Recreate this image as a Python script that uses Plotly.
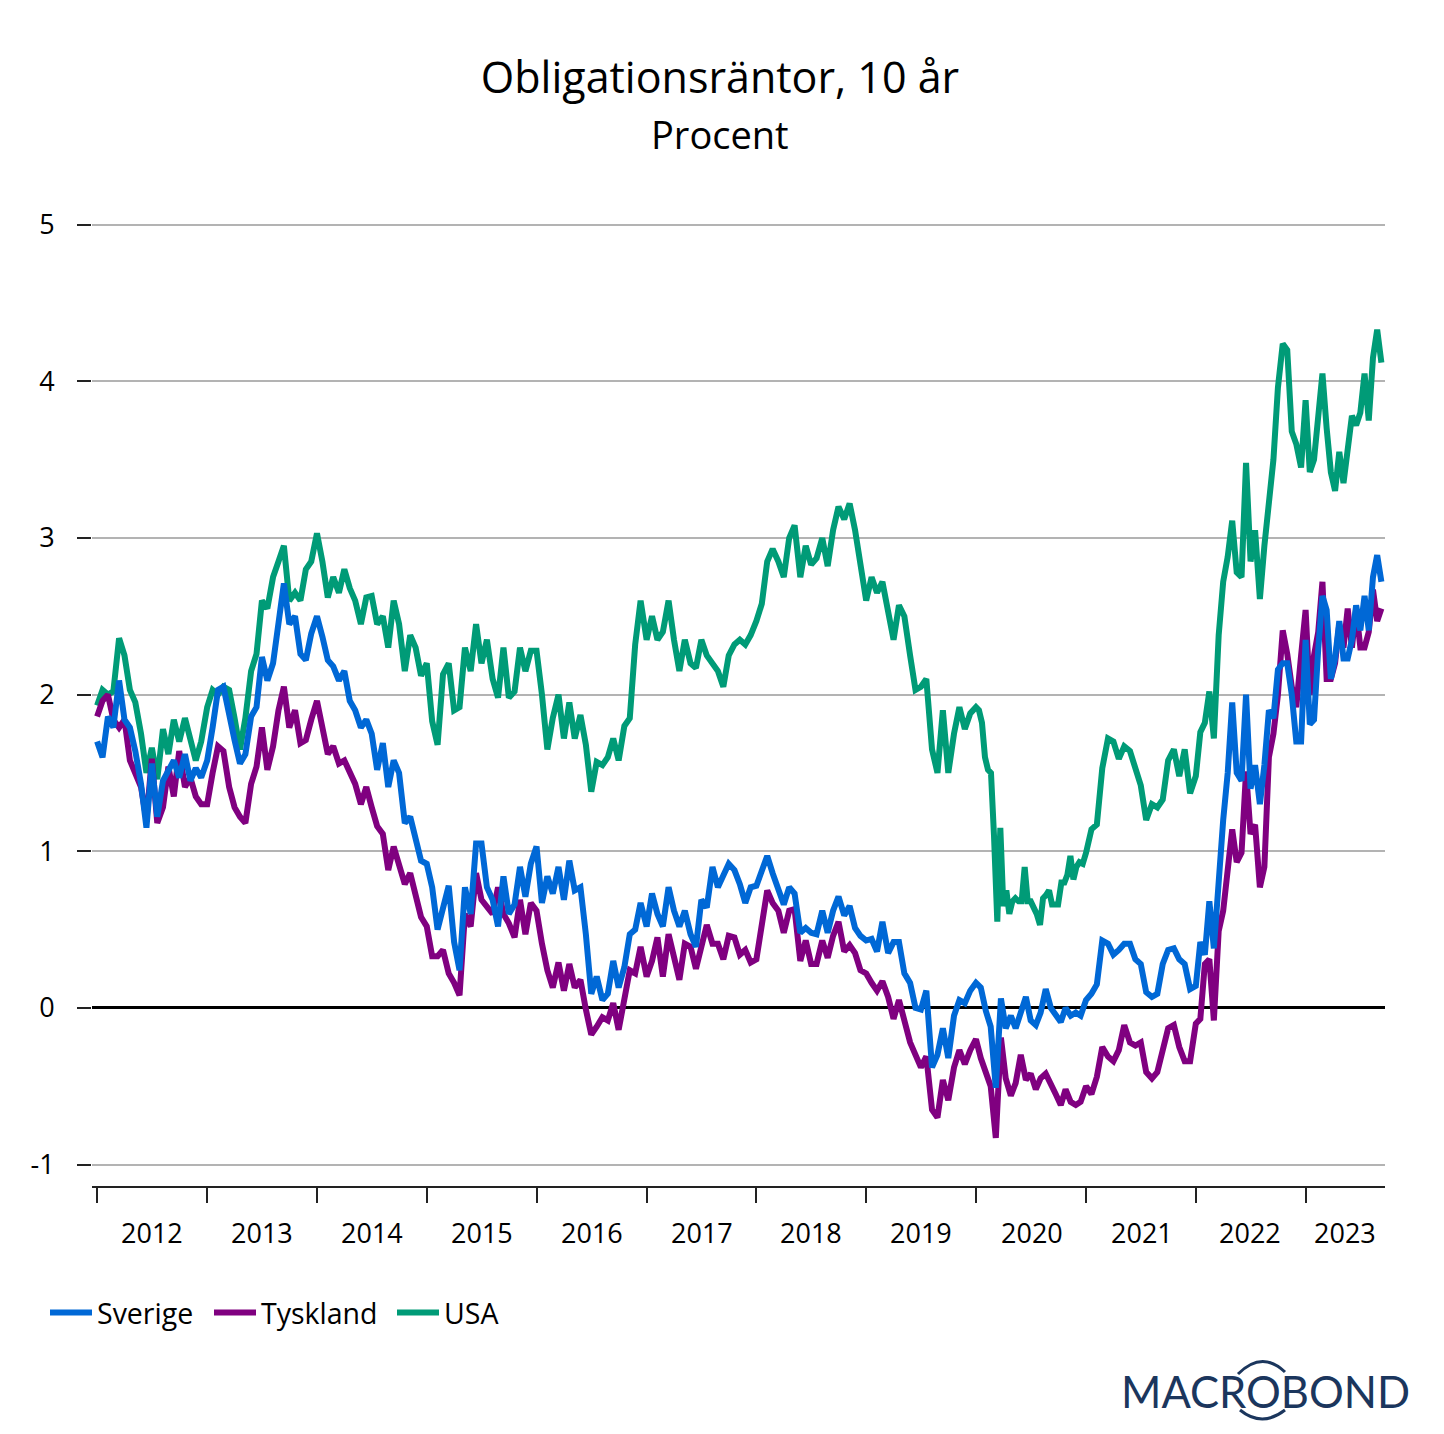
from datetime import datetime, timedelta
import plotly.graph_objects as go

W, H = 1444, 1434
FONT = "Open Sans"
BLUE, PURPLE, GREEN = "#0068d6", "#800080", "#009b77"
NAVY = "#1b365d"

TITLE = "Obligationsräntor, 10 år"
SUBTITLE = "Procent"
YEARS = list(range(2012, 2024))
LAST_YEAR_COVERAGE = 0.69
Y_TICKS = [-1, 0, 1, 2, 3, 4, 5]
X_LABELS = ["2012", "2013", "2014", "2015", "2016", "2017", "2018", "2019", "2020", "2021", "2022", "2023"]
X_LABEL_DATES = ["2012-07-03", "2013-07-03", "2014-07-03", "2015-07-03", "2016-07-03", "2017-07-03",
                 "2018-07-01", "2019-07-01", "2020-07-04", "2021-07-05", "2022-07-01", "2023-05-12"]

sverige_2012 = [1.70,1.60,1.86,1.79,2.09,1.84,1.79,1.64,1.43,1.15,1.56,1.22,1.45,1.52,1.58,1.47,1.62,1.45,1.53,1.47]
sverige_2013 = [1.58,1.79,2.03,2.05,1.86,1.71,1.56,1.62,1.86,1.92,2.24,2.09,2.20,2.47,2.71,2.45,2.50,2.26,2.22,2.39]
sverige_2014 = [2.50,2.37,2.22,2.18,2.09,2.15,1.96,1.90,1.79,1.84,1.75,1.52,1.69,1.41,1.58,1.50,1.18,1.22,1.07,0.94]
sverige_2015 = [0.92,0.77,0.50,0.64,0.78,0.42,0.24,0.77,0.60,1.05,1.05,0.77,0.69,0.52,0.84,0.60,0.66,0.90,0.71,0.92]
sverige_2016 = [1.03,0.67,0.84,0.73,0.90,0.69,0.94,0.75,0.77,0.47,0.09,0.20,0.05,0.09,0.30,0.13,0.26,0.47,0.50,0.67]
sverige_2017 = [0.52,0.73,0.60,0.52,0.77,0.62,0.52,0.62,0.47,0.39,0.69,0.64,0.90,0.77,0.84,0.92,0.88,0.79,0.67,0.77]
sverige_2018 = [0.78,0.89,0.97,0.86,0.75,0.66,0.77,0.73,0.48,0.51,0.48,0.47,0.62,0.48,0.62,0.71,0.59,0.65,0.51,0.46]
sverige_2019 = [0.43,0.44,0.36,0.55,0.35,0.42,0.42,0.22,0.16,0.00,-0.01,0.11,-0.38,-0.30,-0.13,-0.32,-0.05,0.05,0.03,0.11]
sverige_2020 = [0.16,0.13,-0.02,-0.12,-0.51,0.06,-0.13,-0.05,-0.13,-0.03,0.07,-0.08,-0.11,-0.03,0.12,0.00,-0.05,-0.09,0.00,-0.05,-0.03,-0.05]
sverige_2021 = [0.05,0.09,0.15,0.43,0.41,0.34,0.37,0.41,0.41,0.31,0.28,0.10,0.07,0.09,0.28,0.37,0.38,0.31,0.28,0.12]
sverige_2022 = [0.14,0.42,0.34,0.68,0.38,0.85,1.20,1.50,1.95,1.50,1.45,2.00,1.40,1.55,1.30,1.55,1.90,1.85,2.16,2.20,2.20,2.00,1.70,1.70]
sverige_2023 = [2.35,1.81,1.84,2.29,2.63,2.54,2.10,2.23,2.47,2.23,2.23,2.35,2.57,2.41,2.63,2.41,2.75,2.89,2.72]

tyskland_2012 = [1.86,1.96,2.00,1.84,1.79,1.84,1.58,1.50,1.41,1.20,1.59,1.18,1.28,1.54,1.35,1.64,1.41,1.47,1.35,1.30]
tyskland_2013 = [1.30,1.50,1.67,1.64,1.41,1.28,1.22,1.18,1.43,1.54,1.79,1.52,1.67,1.90,2.05,1.79,1.90,1.69,1.71,1.84]
tyskland_2014 = [1.96,1.79,1.62,1.67,1.56,1.58,1.50,1.43,1.30,1.41,1.28,1.16,1.11,0.88,1.03,0.90,0.79,0.86,0.71,0.58]
tyskland_2015 = [0.52,0.33,0.33,0.37,0.22,0.16,0.08,0.60,0.52,0.86,0.69,0.64,0.60,0.77,0.60,0.54,0.45,0.69,0.47,0.67]
tyskland_2016 = [0.62,0.41,0.24,0.13,0.29,0.11,0.28,0.13,0.18,-0.01,-0.17,-0.12,-0.06,-0.08,0.03,-0.14,0.05,0.24,0.22,0.39]
tyskland_2017 = [0.20,0.30,0.45,0.20,0.47,0.33,0.18,0.41,0.39,0.25,0.39,0.53,0.41,0.41,0.31,0.46,0.45,0.34,0.37,0.29]
tyskland_2018 = [0.31,0.51,0.75,0.67,0.62,0.48,0.62,0.63,0.30,0.43,0.28,0.28,0.43,0.32,0.46,0.55,0.36,0.40,0.35,0.24]
tyskland_2019 = [0.22,0.16,0.11,0.17,0.07,-0.07,0.05,-0.08,-0.22,-0.30,-0.38,-0.31,-0.65,-0.70,-0.46,-0.59,-0.38,-0.27,-0.36,-0.27]
tyskland_2020 = [-0.20,-0.32,-0.43,-0.50,-0.83,-0.19,-0.45,-0.56,-0.48,-0.30,-0.46,-0.42,-0.52,-0.45,-0.42,-0.50,-0.55,-0.62,-0.52,-0.60,-0.62,-0.60]
tyskland_2021 = [-0.50,-0.55,-0.44,-0.25,-0.31,-0.34,-0.27,-0.11,-0.22,-0.24,-0.22,-0.41,-0.45,-0.41,-0.28,-0.13,-0.11,-0.25,-0.34,-0.34]
tyskland_2022 = [-0.10,-0.07,0.28,0.31,-0.08,0.49,0.62,0.86,1.14,0.93,0.99,1.51,1.11,1.17,0.77,0.90,1.60,1.75,2.00,2.41,2.26,2.05,1.92,2.25]
tyskland_2023 = [2.54,2.00,2.25,2.40,2.72,2.10,2.10,2.20,2.45,2.30,2.55,2.30,2.55,2.30,2.30,2.40,2.67,2.47,2.55]

usa_2012 = [1.93,2.03,2.00,2.02,2.36,2.25,2.03,1.95,1.75,1.50,1.66,1.46,1.78,1.62,1.84,1.70,1.85,1.70,1.58,1.70]
usa_2013 = [1.92,2.03,2.00,2.05,2.03,1.85,1.65,1.85,2.15,2.26,2.60,2.55,2.75,2.85,2.95,2.60,2.65,2.60,2.80,2.85]
usa_2014 = [3.03,2.85,2.62,2.75,2.65,2.80,2.68,2.60,2.45,2.62,2.63,2.45,2.50,2.30,2.60,2.45,2.15,2.38,2.30,2.12]
usa_2015 = [2.20,1.83,1.68,2.13,2.20,1.90,1.92,2.30,2.15,2.45,2.20,2.35,2.10,1.98,2.30,1.98,2.02,2.30,2.15,2.28]
usa_2016 = [2.28,2.00,1.65,1.85,2.00,1.72,1.95,1.72,1.87,1.68,1.38,1.57,1.55,1.60,1.72,1.58,1.80,1.85,2.32,2.60]
usa_2017 = [2.35,2.50,2.35,2.40,2.60,2.35,2.15,2.35,2.20,2.17,2.35,2.25,2.20,2.15,2.05,2.25,2.32,2.35,2.32,2.38]
usa_2018 = [2.47,2.58,2.85,2.93,2.85,2.75,3.00,3.08,2.75,2.95,2.83,2.87,3.00,2.82,3.05,3.20,3.12,3.22,3.05,2.80]
usa_2019 = [2.60,2.75,2.65,2.72,2.52,2.35,2.57,2.50,2.25,2.03,2.05,2.10,1.65,1.50,1.90,1.50,1.75,1.92,1.78,1.88]
usa_2020 = [1.92,1.90,1.82,1.60,1.52,1.50,1.10,0.55,1.15,0.65,0.75,0.60,0.68,0.70,0.68,0.68,0.90,0.68,0.68,0.64,0.60,0.53,0.70,0.72,0.75,0.66,0.66,0.66,0.80,0.80,0.85,0.97,0.82,0.90,0.93,0.92]
usa_2021 = [0.99,1.14,1.17,1.53,1.72,1.70,1.59,1.67,1.64,1.53,1.42,1.20,1.30,1.28,1.33,1.58,1.65,1.48,1.65,1.37]
usa_2022 = [1.48,1.76,1.82,2.02,1.72,2.38,2.72,2.88,3.11,2.78,2.75,3.48,2.85,3.05,2.61,2.95,3.25,3.50,3.96,4.24,4.20,3.68,3.60,3.45]
usa_2023 = [3.88,3.42,3.50,3.75,4.05,3.70,3.42,3.30,3.55,3.35,3.60,3.78,3.72,3.80,4.05,3.75,4.15,4.33,4.12]

sverige_by_year = [sverige_2012, sverige_2013, sverige_2014, sverige_2015, sverige_2016, sverige_2017,
                   sverige_2018, sverige_2019, sverige_2020, sverige_2021, sverige_2022, sverige_2023]
tyskland_by_year = [tyskland_2012, tyskland_2013, tyskland_2014, tyskland_2015, tyskland_2016, tyskland_2017,
                    tyskland_2018, tyskland_2019, tyskland_2020, tyskland_2021, tyskland_2022, tyskland_2023]
usa_by_year = [usa_2012, usa_2013, usa_2014, usa_2015, usa_2016, usa_2017,
               usa_2018, usa_2019, usa_2020, usa_2021, usa_2022, usa_2023]


def flatten(by_year):
    dates, values = [], []
    for year, vals in zip(YEARS, by_year):
        n = len(vals)
        last = year == YEARS[-1]
        for k, v in enumerate(vals):
            frac = k * LAST_YEAR_COVERAGE / (n - 1) if last else k / n
            dates.append((datetime(year, 1, 1) + timedelta(days=365.25 * frac)).strftime("%Y-%m-%d"))
            values.append(v)
    return dates, values


PLOT_L, PLOT_R, PLOT_T, PLOT_B = 92, 1385, 209, 1186


def px(x):
    return (x - PLOT_L) / (PLOT_R - PLOT_L)


def py(y):
    return (PLOT_B - y) / (PLOT_B - PLOT_T)


fig = go.Figure()
for name, by_year, color, legend_id in [("USA", usa_by_year, GREEN, "legend3"),
                                        ("Tyskland", tyskland_by_year, PURPLE, "legend2"),
                                        ("Sverige", sverige_by_year, BLUE, "legend")]:
    d, v = flatten(by_year)
    fig.add_trace(go.Scatter(x=d, y=v, name=name, mode="lines", legend=legend_id, showlegend=True,
                             line=dict(color=color, width=6, shape="linear")))


def legend_at(x_px):
    return dict(x=px(x_px), xanchor="left", y=py(1313), yanchor="middle",
                font=dict(size=28.5, family=FONT), itemwidth=42, bgcolor="rgba(0,0,0,0)")


fig.update_layout(
    width=W, height=H, autosize=False,
    paper_bgcolor="white", plot_bgcolor="white",
    margin=dict(l=PLOT_L, r=W - PLOT_R, t=PLOT_T, b=H - PLOT_B, autoexpand=False),
    font=dict(family=FONT, size=27, color="black"),
    title=dict(text=TITLE, font=dict(size=43, family=FONT, color="black"),
               x=720 / W, xanchor="center", xref="container", y=1 - 78 / H, yref="container", yanchor="middle"),
    showlegend=True,
    legend=legend_at(45), legend2=legend_at(209), legend3=legend_at(392),
    xaxis=dict(type="date", range=["2011-12-15", "2023-09-22"],
               tick0="2012-01-01", dtick="M12", showticklabels=False,
               ticks="outside", ticklen=15, tickwidth=2, tickcolor="#222222",
               showline=True, linecolor="#222222", linewidth=2, showgrid=False),
    yaxis=dict(range=[-1.137, 5.1], tickvals=Y_TICKS, ticktext=[str(t) for t in Y_TICKS],
               ticks="outside", ticklen=14, tickwidth=2, tickcolor="#222222",
               showline=False, showgrid=True, gridcolor="#b3b3b3", gridwidth=1.5,
               zeroline=True, zerolinecolor="black", zerolinewidth=2.5,
               ticklabelstandoff=17, tickfont=dict(size=27, family=FONT)),
)

for label, when in zip(X_LABELS, X_LABEL_DATES):
    fig.add_annotation(text=label, xref="x", yref="paper", x=when, y=py(1232),
                       xanchor="center", yanchor="middle", showarrow=False,
                       font=dict(size=27, family=FONT, color="black"))

fig.add_annotation(text=SUBTITLE, xref="paper", yref="paper", x=px(720), y=py(134),
                   xanchor="center", yanchor="middle", showarrow=False,
                   font=dict(size=38, family=FONT, color="black"))
fig.add_annotation(text="MACROBOND", xref="paper", yref="paper", x=px(1265), y=py(1391),
                   xanchor="center", yanchor="middle", showarrow=False,
                   font=dict(size=43.5, family="Lato", color=NAVY))
for (x0, y0, cx, cy, x1, y1) in [(1238, 1374, 1262, 1350, 1285, 1372),
                                 (1240, 1410, 1262, 1428, 1285, 1410)]:
    fig.add_shape(type="path", xref="paper", yref="paper",
                  path=f"M {px(x0)} {py(y0)} Q {px(cx)} {py(cy)} {px(x1)} {py(y1)}",
                  line=dict(color=NAVY, width=3))

fig.write_html("out.html", config={"displayModeBar": False},
               post_script="document.body.style.margin='0';")
